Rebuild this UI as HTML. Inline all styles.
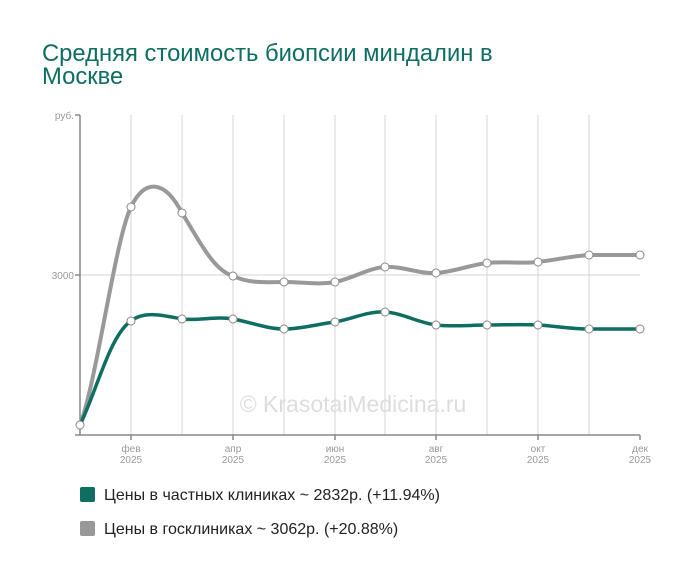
<!DOCTYPE html>
<html><head><meta charset="utf-8"><style>
body{margin:0;background:#fff;font-family:"Liberation Sans",sans-serif;}
</style></head><body>
<svg width="700" height="578" xmlns="http://www.w3.org/2000/svg" font-family="Liberation Sans, sans-serif">
<rect width="700" height="578" fill="#fff"/>
<text x="42" y="61" font-size="23.8" fill="#0e6e62">Средняя стоимость биопсии миндалин в</text>
<text x="42" y="84" font-size="23.8" fill="#0e6e62">Москве</text>
<g stroke="#d4d4d4" stroke-width="1">
<line x1="131" y1="115" x2="131" y2="435"/><line x1="182" y1="115" x2="182" y2="435"/>
<line x1="233" y1="115" x2="233" y2="435"/><line x1="284" y1="115" x2="284" y2="435"/>
<line x1="335" y1="115" x2="335" y2="435"/><line x1="385" y1="115" x2="385" y2="435"/>
<line x1="436" y1="115" x2="436" y2="435"/><line x1="487" y1="115" x2="487" y2="435"/>
<line x1="538" y1="115" x2="538" y2="435"/><line x1="589" y1="115" x2="589" y2="435"/>
<line x1="80" y1="275" x2="640" y2="275"/>
</g>
<g stroke="#888" stroke-width="1.5" fill="none">
<line x1="80" y1="115" x2="80" y2="435"/><line x1="75" y1="115" x2="80" y2="115"/><line x1="75" y1="275" x2="80" y2="275"/>
<line x1="75" y1="435" x2="640" y2="435"/>
<line x1="131" y1="435" x2="131" y2="440"/><line x1="233" y1="435" x2="233" y2="440"/><line x1="335" y1="435" x2="335" y2="440"/><line x1="436" y1="435" x2="436" y2="440"/><line x1="538" y1="435" x2="538" y2="440"/><line x1="640" y1="435" x2="640" y2="440"/>
</g>
<g font-size="10" fill="#999" text-anchor="end"><text x="74" y="119">руб.</text><text x="74" y="279">3000</text></g>
<g font-size="10" fill="#999" text-anchor="middle">
<text x="131" y="452">фев</text><text x="131" y="463">2025</text>
<text x="233" y="452">апр</text><text x="233" y="463">2025</text>
<text x="335" y="452">июн</text><text x="335" y="463">2025</text>
<text x="436" y="452">авг</text><text x="436" y="463">2025</text>
<text x="538" y="452">окт</text><text x="538" y="463">2025</text>
<text x="640" y="452">дек</text><text x="640" y="463">2025</text>
</g>
<text x="353" y="412" font-size="23" fill="#ddd" text-anchor="middle">© KrasotaiMedicina.ru</text>
<path fill="none" stroke="#999" stroke-width="4" d="M80,425 C97,380 115,240 131,207 C145,178 165,180 182,213 C199,240 213,270 233,276 C250,284 267,282 284,282 C301,282 318,285 335,282 C352,279 368,268 385,267 C402,266 419,274 436,273 C453,272 470,265 487,263 C504,261 521,264 538,262 C555,260 572,256 589,255 C606,255 623,255 640,255"/>
<path fill="none" stroke="#0e6e62" stroke-width="3.5" d="M80,425 C97,390 110,335 131,321 C145,310 165,316 182,319 C199,321 216,316 233,319 C250,322 267,329 284,329 C301,329 318,324 335,322 C352,319 368,311 385,312 C402,313 419,323 436,325 C453,327 470,325 487,325 C504,325 521,324 538,325 C555,326 572,329 589,329 C606,329 623,329 640,329"/>
<g fill="#fff" stroke="#888" stroke-width="1">
<circle cx="80" cy="425" r="4"/><circle cx="131" cy="207" r="4"/><circle cx="182" cy="213" r="4"/><circle cx="233" cy="276" r="4"/><circle cx="284" cy="282" r="4"/><circle cx="335" cy="282" r="4"/><circle cx="385" cy="267" r="4"/><circle cx="436" cy="273" r="4"/><circle cx="487" cy="263" r="4"/><circle cx="538" cy="262" r="4"/><circle cx="589" cy="255" r="4"/><circle cx="640" cy="255" r="4"/>
<circle cx="131" cy="321" r="4"/><circle cx="182" cy="319" r="4"/><circle cx="233" cy="319" r="4"/><circle cx="284" cy="329" r="4"/><circle cx="335" cy="322" r="4"/><circle cx="385" cy="312" r="4"/><circle cx="436" cy="325" r="4"/><circle cx="487" cy="325" r="4"/><circle cx="538" cy="325" r="4"/><circle cx="589" cy="329" r="4"/><circle cx="640" cy="329" r="4"/>
</g>
<rect x="80" y="487" width="15" height="15" rx="2" fill="#0e6e62"/>
<text x="104" y="500" font-size="16" fill="#222">Цены в частных клиниках ~ 2832р. (+11.94%)</text>
<rect x="80" y="521" width="15" height="15" rx="2" fill="#999"/>
<text x="104" y="534" font-size="16" fill="#222">Цены в госклиниках ~ 3062р. (+20.88%)</text>
</svg>
</body></html>
